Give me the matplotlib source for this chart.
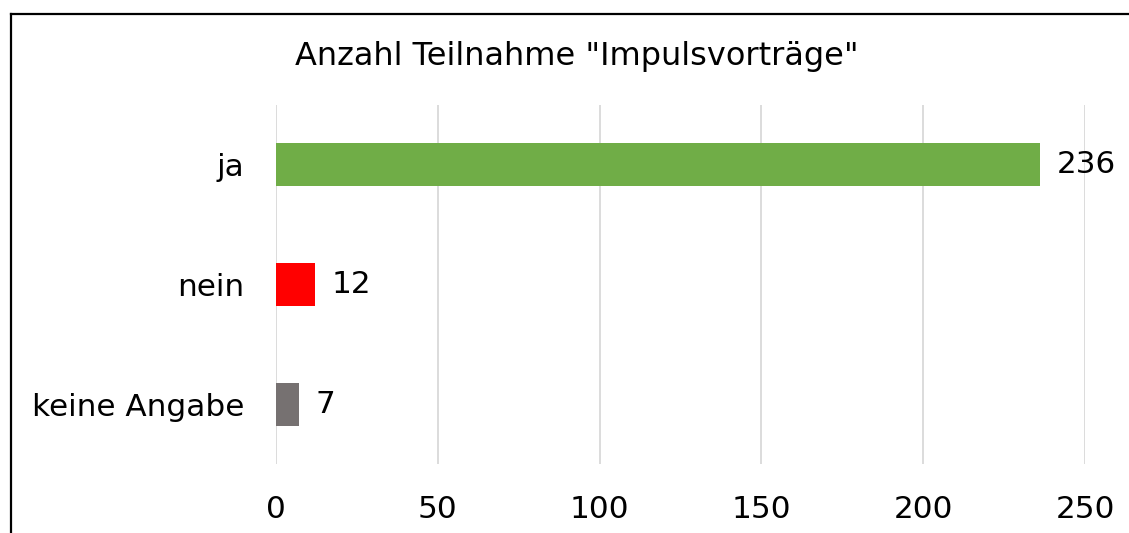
import matplotlib
matplotlib.use("Agg")
import matplotlib.pyplot as plt
from matplotlib.lines import Line2D

categories = ["ja", "nein", "keine Angabe"]
values = [236, 12, 7]
colors = ["#70AD47", "#FF0000", "#767171"]
xticks = [0, 50, 100, 150, 200, 250]
title = 'Anzahl Teilnahme "Impulsvorträge"'

W, H = 1129, 533
fig = plt.figure(figsize=(W / 100, H / 100), dpi=100)
fig.patch.set_facecolor("white")
ax = fig.add_axes([276 / W, 1 - 464 / H, (1085 - 276) / W, (464 - 105) / H])

fs = 22.4
y = list(range(len(categories)))
ax.barh(y, values, height=0.36, color=colors, zorder=3)
ax.set_xlim(0, 250)
ax.set_ylim(2.5, -0.5)
ax.set_xticks(xticks)
ax.set_xticklabels([str(t) for t in xticks], fontsize=fs)
ax.set_yticks(y)
ax.set_yticklabels(categories, fontsize=fs)
ax.tick_params(axis="both", length=0)
ax.tick_params(axis="x", pad=22)
ax.tick_params(axis="y", pad=23)
for s in ax.spines.values():
    s.set_visible(False)
ax.grid(axis="x", color="#D9D9D9", linewidth=1.3, zorder=0)
ax.set_axisbelow(True)

for yi, v in zip(y, values):
    ax.annotate(str(v), xy=(v, yi), xytext=(12, 0), textcoords="offset points",
                ha="left", va="center", fontsize=fs)

fig.text(577 / W, 1 - 56 / H, title, ha="center", va="center", fontsize=23)

# outer frame (top and left visible)
fig.add_artist(Line2D([11 / W, 1], [1 - 13.5 / H, 1 - 13.5 / H], color="black", linewidth=1.6, transform=fig.transFigure))
fig.add_artist(Line2D([11 / W, 11 / W], [0, 1 - 13.5 / H], color="black", linewidth=1.6, transform=fig.transFigure))

fig.savefig("out.png", dpi=100)
